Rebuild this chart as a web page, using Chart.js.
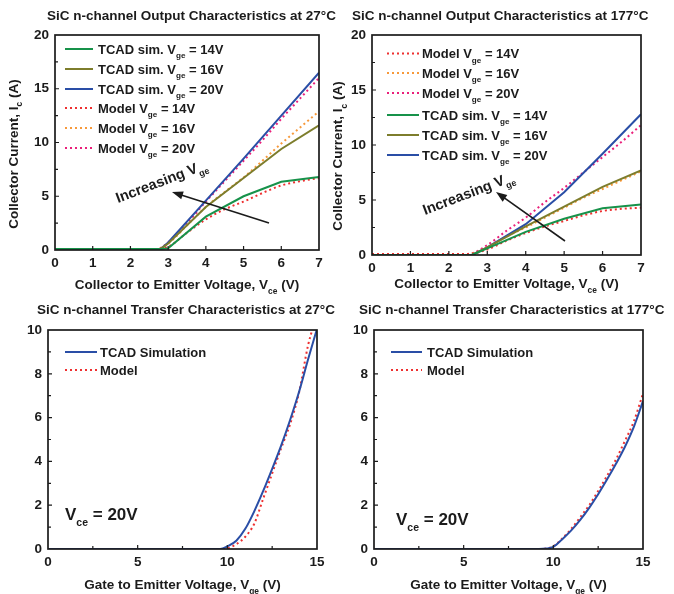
<!DOCTYPE html>
<html>
<head>
<meta charset="utf-8">
<script src="https://cdn.jsdelivr.net/npm/chart.js@4.4.1/dist/chart.umd.min.js"></script>
<style>
  body { margin: 0; background: #fff; }
  #wrap { position: relative; width: 674px; height: 594px; }
  canvas { position: absolute; left: 0; top: 0; }
</style>
</head>
<body>
<div id="wrap">
  <canvas id="out27" width="674" height="594"></canvas>
  <canvas id="out177" width="674" height="594"></canvas>
  <canvas id="tr27" width="674" height="594"></canvas>
  <canvas id="tr177" width="674" height="594"></canvas>
</div>
<script>
// Output characteristics, 27 C
const vceSim27 = [0, 1, 2, 2.8, 3, 4, 5, 6, 7];
const sim27Vge14 = [0.1, 0.1, 0.1, 0.1, 0.15, 3.1, 5.0, 6.35, 6.8];
const sim27Vge16 = [0.1, 0.1, 0.1, 0.1, 0.6, 4.0, 6.7, 9.4, 11.6];
const sim27Vge20 = [0.1, 0.1, 0.1, 0.1, 0.7, 4.6, 8.5, 12.5, 16.5];
const vceModel27 = [0, 0.5, 1, 1.5, 2, 2.5, 2.7, 3, 3.5, 4, 4.5, 5, 5.5, 6, 6.5, 7];
const model27Vge14 = [0.1, 0.1, 0.1, 0.1, 0.1, 0.1, 0.1, 0.3, 1.6, 2.85, 3.8, 4.5, 5.3, 6.0, 6.4, 6.7];
const model27Vge16 = [0.1, 0.1, 0.1, 0.1, 0.1, 0.1, 0.1, 0.6, 2.3, 4.0, 5.4, 6.75, 8.3, 9.9, 11.4, 12.9];
const model27Vge20 = [0.1, 0.1, 0.1, 0.1, 0.1, 0.1, 0.1, 0.7, 2.5, 4.5, 6.4, 8.3, 10.2, 12.2, 14.1, 16.0];

// Output characteristics, 177 C
const vceSim177 = [0, 1, 2, 2.6, 3, 4, 5, 6, 7];
const sim177Vge14 = [0, 0, 0, 0, 0.6, 2.1, 3.3, 4.25, 4.6];
const sim177Vge16 = [0, 0, 0, 0, 0.7, 2.6, 4.4, 6.2, 7.7];
const sim177Vge20 = [0, 0, 0, 0, 0.7, 2.8, 5.7, 9.2, 12.8];
const vceModel177 = [0, 0.5, 1, 1.5, 2, 2.5, 3, 3.5, 4, 4.5, 5, 5.5, 6, 6.5, 7];
const model177Vge14 = [0.1, 0.1, 0.1, 0.1, 0.1, 0.1, 0.5, 1.3, 2.0, 2.6, 3.1, 3.6, 4.0, 4.2, 4.3];
const model177Vge16 = [0.1, 0.1, 0.1, 0.1, 0.1, 0.1, 0.7, 1.7, 2.5, 3.4, 4.3, 5.2, 6.0, 6.8, 7.6];
const model177Vge20 = [0.1, 0.1, 0.1, 0.1, 0.1, 0.1, 0.9, 2.2, 3.4, 4.8, 6.1, 7.5, 8.9, 10.3, 11.8];

// Transfer characteristics, Vce = 20V
const vgeSim27 = [0, 5, 9.6, 10, 10.5, 11, 11.5, 12, 12.5, 13, 13.5, 14, 14.5, 15];
const simTransfer27 = [0, 0, 0, 0.12, 0.38, 0.92, 1.72, 2.65, 3.66, 4.72, 5.89, 7.18, 8.65, 10.05];
const vgeModel27 = [0, 5, 9.85, 10, 10.5, 11, 11.5, 12, 12.5, 13, 13.5, 14, 14.5, 14.75];
const modelTransfer27 = [0, 0, 0, 0.02, 0.22, 0.56, 1.15, 2.3, 3.45, 4.6, 5.7, 7.15, 9.3, 10.05];
const vgeSim177 = [0, 5, 9.2, 9.6, 10, 10.5, 11, 11.5, 12, 12.5, 13, 13.5, 14, 14.5, 15];
const simTransfer177 = [0, 0, 0, 0.02, 0.1, 0.45, 0.85, 1.33, 1.88, 2.5, 3.18, 3.9, 4.68, 5.6, 6.75];
const vgeModel177 = [0, 5, 9.4, 9.6, 10, 10.5, 11, 11.5, 12, 12.5, 13, 13.5, 14, 14.5, 15];
const modelTransfer177 = [0, 0, 0, 0.02, 0.12, 0.48, 0.92, 1.45, 2.0, 2.65, 3.35, 4.1, 4.95, 5.85, 7.1];

const gateVoltages = [14, 16, 20];

const INK = "#1b1b1b";
const FONT = "'Liberation Sans', Arial, sans-serif";
const GREEN = "#17924a";
const OLIVE = "#7d7d2c";
const BLUE = "#2a4ea6";
const RED = "#ee3030";
const ORANGE = "#f7993a";
const MAGENTA = "#ea1f7a";

Chart.defaults.font = { family: FONT, size: 13.5, weight: "bold" };
Chart.defaults.color = INK;

function pts(xs, ys) {
  return xs.map((x, i) => ({ x: x, y: ys[i] }));
}

function solid(label, xs, ys, color, smooth) {
  return {
    label: label, data: pts(xs, ys), borderColor: color, borderWidth: 2,
    pointRadius: 0, fill: false, tension: 0,
    cubicInterpolationMode: smooth ? "monotone" : "default",
  };
}

function dotted(label, xs, ys, color) {
  return {
    label: label, data: pts(xs, ys), borderColor: color, borderWidth: 2,
    borderDash: [2, 3], pointRadius: 0, fill: false,
    cubicInterpolationMode: "monotone",
  };
}

// text with subscripts: parts = [[text, isSub], ...]
function rich(ctx, parts, x, y, size, align) {
  const big = "bold " + size + "px " + FONT;
  const small = "bold " + (size * 0.62).toFixed(1) + "px " + FONT;
  let w = 0;
  parts.forEach((p) => { ctx.font = p[1] ? small : big; w += ctx.measureText(p[0]).width; });
  let cx = align === "center" ? x - w / 2 : x;
  parts.forEach((p) => {
    ctx.font = p[1] ? small : big;
    ctx.fillText(p[0], cx, p[1] ? y + size * 0.34 : y);
    cx += ctx.measureText(p[0]).width;
  });
}

function vgeLabel(prefix, v) {
  return [[prefix + " V"], ["ge", true], [" = " + v + "V"]];
}

function arrow(ctx, x1, y1, x2, y2) {
  const ang = Math.atan2(y2 - y1, x2 - x1);
  ctx.strokeStyle = INK;
  ctx.fillStyle = INK;
  ctx.lineWidth = 1.6;
  ctx.beginPath();
  ctx.moveTo(x1, y1);
  ctx.lineTo(x2 - 8 * Math.cos(ang), y2 - 8 * Math.sin(ang));
  ctx.stroke();
  ctx.beginPath();
  ctx.moveTo(x2, y2);
  ctx.lineTo(x2 - 11 * Math.cos(ang) + 4 * Math.sin(ang), y2 - 11 * Math.sin(ang) - 4 * Math.cos(ang));
  ctx.lineTo(x2 - 11 * Math.cos(ang) - 4 * Math.sin(ang), y2 - 11 * Math.sin(ang) + 4 * Math.cos(ang));
  ctx.closePath();
  ctx.fill();
}

function panelPlugin(p) {
  return {
    id: "panel",
    afterDatasetsDraw(chart) {
      const ctx = chart.ctx;
      const a = chart.chartArea;
      const xs = chart.scales.x;
      const ys = chart.scales.y;
      ctx.save();
      ctx.strokeStyle = INK;
      ctx.lineWidth = 1.7;
      ctx.strokeRect(a.left, a.top, a.right - a.left, a.bottom - a.top);

      // inward tick marks
      ctx.lineWidth = 1.2;
      ctx.beginPath();
      for (let v = p.xMinor; v < p.xMax - 1e-6; v += p.xMinor) {
        const px = xs.getPixelForValue(v);
        const major = Math.abs(v / p.xStep - Math.round(v / p.xStep)) < 1e-6;
        ctx.moveTo(px, a.bottom);
        ctx.lineTo(px, a.bottom - (major ? 4 : 3));
      }
      for (let v = p.yMinor; v < p.yMax - 1e-6; v += p.yMinor) {
        const py = ys.getPixelForValue(v);
        const major = Math.abs(v / p.yStep - Math.round(v / p.yStep)) < 1e-6;
        ctx.moveTo(a.left, py);
        ctx.lineTo(a.left + (major ? 4 : 3), py);
      }
      ctx.stroke();

      ctx.fillStyle = INK;
      ctx.textBaseline = "alphabetic";
      rich(ctx, [[p.title]], p.titlePos[0], p.titlePos[1], 13.5, "left");
      rich(ctx, p.xTitle, (a.left + a.right) / 2, p.xTitleY, 13.5, "center");
      if (p.yTitle) {
        ctx.save();
        ctx.translate(p.yTitlePos[0], p.yTitlePos[1]);
        ctx.rotate(-Math.PI / 2);
        rich(ctx, p.yTitle, 0, 0, 13.5, "center");
        ctx.restore();
      }

      // legend
      p.legend.rows.forEach((row, i) => {
        const y = p.legend.y[i];
        ctx.save();
        ctx.strokeStyle = row.color;
        ctx.lineWidth = 2;
        ctx.setLineDash(row.dash ? [2, 3] : []);
        ctx.beginPath();
        ctx.moveTo(p.legend.x1, y);
        ctx.lineTo(p.legend.x2, y);
        ctx.stroke();
        ctx.restore();
        ctx.fillStyle = INK;
        rich(ctx, row.parts, p.legend.tx, y + 4.6, 13, "left");
      });

      if (p.note) p.note(ctx);
      ctx.restore();
    },
  };
}

function makePanel(id, p, datasets) {
  const yw = 30, xh = 30;
  new Chart(document.getElementById(id), {
    type: "line",
    data: { datasets: datasets },
    plugins: [panelPlugin(p)],
    options: {
      responsive: false,
      animation: false,
      devicePixelRatio: 1,
      layout: {
        padding: {
          left: p.area[0] - yw, top: p.area[1],
          right: 674 - p.area[2], bottom: 594 - p.area[3] - xh,
        },
      },
      plugins: { legend: { display: false }, tooltip: { enabled: false } },
      scales: {
        x: {
          type: "linear", min: 0, max: p.xMax,
          ticks: { stepSize: p.xStep, padding: 5 },
          grid: { display: false, drawTicks: false },
          border: { display: false },
          afterFit: (s) => { s.height = xh; },
        },
        y: {
          type: "linear", min: 0, max: p.yMax,
          ticks: { stepSize: p.yStep, padding: 6 },
          grid: { display: false, drawTicks: false },
          border: { display: false },
          afterFit: (s) => { s.width = yw; },
        },
      },
    },
  });
}

const outXTitle = [["Collector to Emitter Voltage, V"], ["ce", true], [" (V)"]];
const outYTitle = [["Collector Current, I"], ["c", true], [" (A)"]];
const trXTitle = [["Gate to Emitter Voltage, V"], ["ge", true], [" (V)"]];

function increasing(x, y, ang) {
  return function (ctx) {
    ctx.save();
    ctx.translate(x, y);
    ctx.rotate(ang * Math.PI / 180);
    ctx.fillStyle = INK;
    rich(ctx, [["Increasing V"], ["ge", true]], 0, 0, 14.5, "left");
    ctx.restore();
  };
}

function vceNote(x, y) {
  return function (ctx) {
    ctx.fillStyle = INK;
    rich(ctx, [["V"], ["ce", true], [" = 20V"]], x, y, 17, "left");
  };
}

// 27 C output
makePanel("out27", {
  area: [55, 35, 319, 250], xMax: 7, xStep: 1, xMinor: 1, yMax: 20, yStep: 5, yMinor: 2.5,
  title: "SiC n-channel Output Characteristics at 27°C", titlePos: [47, 19.5],
  xTitle: outXTitle, xTitleY: 289, yTitle: outYTitle, yTitlePos: [17.5, 154],
  legend: {
    x1: 65, x2: 93, tx: 98, y: [49, 69, 89, 108, 128, 148],
    rows: [
      { parts: vgeLabel("TCAD sim.", gateVoltages[0]), color: GREEN },
      { parts: vgeLabel("TCAD sim.", gateVoltages[1]), color: OLIVE },
      { parts: vgeLabel("TCAD sim.", gateVoltages[2]), color: BLUE },
      { parts: vgeLabel("Model", gateVoltages[0]), color: RED, dash: true },
      { parts: vgeLabel("Model", gateVoltages[1]), color: ORANGE, dash: true },
      { parts: vgeLabel("Model", gateVoltages[2]), color: MAGENTA, dash: true },
    ],
  },
  note: function (ctx) {
    arrow(ctx, 269, 223, 172, 192);
    increasing(118, 203, -21)(ctx);
  },
}, [
  solid("TCAD sim. Vge = 14V", vceSim27, sim27Vge14, GREEN),
  solid("TCAD sim. Vge = 16V", vceSim27, sim27Vge16, OLIVE),
  solid("TCAD sim. Vge = 20V", vceSim27, sim27Vge20, BLUE),
  dotted("Model Vge = 14V", vceModel27, model27Vge14, RED),
  dotted("Model Vge = 16V", vceModel27, model27Vge16, ORANGE),
  dotted("Model Vge = 20V", vceModel27, model27Vge20, MAGENTA),
]);

// 177 C output
makePanel("out177", {
  area: [372, 35, 641, 255], xMax: 7, xStep: 1, xMinor: 1, yMax: 20, yStep: 5, yMinor: 2.5,
  title: "SiC n-channel Output Characteristics at 177°C", titlePos: [352, 19.5],
  xTitle: outXTitle, xTitleY: 288, yTitle: outYTitle, yTitlePos: [342, 156],
  legend: {
    x1: 387, x2: 419, tx: 422, y: [53.5, 73, 93, 115, 135, 155],
    rows: [
      { parts: vgeLabel("Model", gateVoltages[0]), color: RED, dash: true },
      { parts: vgeLabel("Model", gateVoltages[1]), color: ORANGE, dash: true },
      { parts: vgeLabel("Model", gateVoltages[2]), color: MAGENTA, dash: true },
      { parts: vgeLabel("TCAD sim.", gateVoltages[0]), color: GREEN },
      { parts: vgeLabel("TCAD sim.", gateVoltages[1]), color: OLIVE },
      { parts: vgeLabel("TCAD sim.", gateVoltages[2]), color: BLUE },
    ],
  },
  note: function (ctx) {
    arrow(ctx, 565, 241, 496, 192);
    increasing(425, 215, -21)(ctx);
  },
}, [
  solid("TCAD sim. Vge = 14V", vceSim177, sim177Vge14, GREEN),
  solid("TCAD sim. Vge = 16V", vceSim177, sim177Vge16, OLIVE),
  solid("TCAD sim. Vge = 20V", vceSim177, sim177Vge20, BLUE),
  dotted("Model Vge = 14V", vceModel177, model177Vge14, RED),
  dotted("Model Vge = 16V", vceModel177, model177Vge16, ORANGE),
  dotted("Model Vge = 20V", vceModel177, model177Vge20, MAGENTA),
]);

// 27 C transfer
makePanel("tr27", {
  area: [48, 330, 317, 549], xMax: 15, xStep: 5, xMinor: 2.5, yMax: 10, yStep: 2, yMinor: 1,
  title: "SiC n-channel Transfer Characteristics at 27°C", titlePos: [37, 313.5],
  xTitle: trXTitle, xTitleY: 589,
  legend: {
    x1: 65, x2: 97, tx: 100, y: [352, 370],
    rows: [
      { parts: [["TCAD Simulation"]], color: BLUE },
      { parts: [["Model"]], color: RED, dash: true },
    ],
  },
  note: vceNote(65, 520),
}, [
  solid("TCAD Simulation", vgeSim27, simTransfer27, BLUE, true),
  dotted("Model", vgeModel27, modelTransfer27, RED),
]);

// 177 C transfer
makePanel("tr177", {
  area: [374, 330, 643, 549], xMax: 15, xStep: 5, xMinor: 2.5, yMax: 10, yStep: 2, yMinor: 1,
  title: "SiC n-channel Transfer Characteristics at 177°C", titlePos: [359, 313.5],
  xTitle: trXTitle, xTitleY: 589,
  legend: {
    x1: 391, x2: 422, tx: 427, y: [352, 370],
    rows: [
      { parts: [["TCAD Simulation"]], color: BLUE },
      { parts: [["Model"]], color: RED, dash: true },
    ],
  },
  note: vceNote(396, 525),
}, [
  solid("TCAD Simulation", vgeSim177, simTransfer177, BLUE, true),
  dotted("Model", vgeModel177, modelTransfer177, RED),
]);
</script>
</body>
</html>
